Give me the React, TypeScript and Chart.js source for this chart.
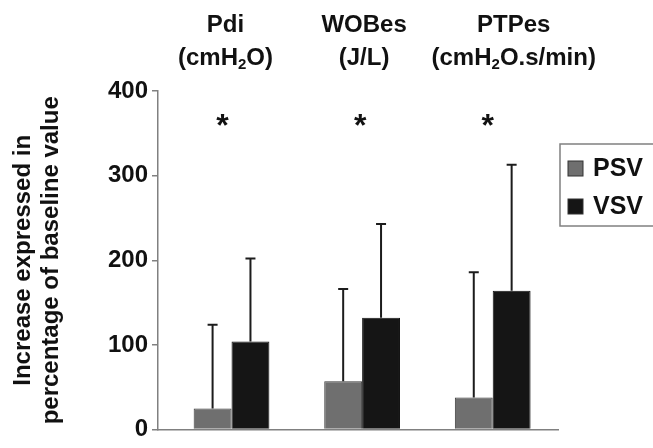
import React, { useEffect, useRef } from 'react';
import { Chart, registerables } from 'chart.js';

Chart.register(...registerables);

// ---- data ----
const categories = ['Pdi', 'WOBes', 'PTPes'];
const units = ['(cmH₂O)', '(J/L)', '(cmH₂O.s/min)'];
const seriesNames = ['PSV', 'VSV'];
const psvValues = [25, 57, 38];
const psvSD = [99, 109, 148];
const vsvValues = [104, 132, 164];
const vsvSD = [98, 111, 149];
const significance = ['*', '*', '*'];
const significanceLevel = 364;
const yTitle = ['Increase expressed in', 'percentage of baseline value'];

const FONT = "'Liberation Sans', Arial, Helvetica, sans-serif";
const TEXT = '#111111';
const AXIS = '#808080';
const COLORS = ['#6f6f6f', '#151515'];

function drawWithSubscript(ctx: CanvasRenderingContext2D, text: string, cx: number, cy: number, size: number) {
  const parts: { t: string; sub: boolean }[] = [];
  for (const ch of text) {
    const sub = ch === '₂';
    const c = sub ? '2' : ch;
    if (parts.length && parts[parts.length - 1].sub === sub) parts[parts.length - 1].t += c;
    else parts.push({ t: c, sub });
  }
  const subSize = Math.round(size * 0.62);
  let total = 0;
  parts.forEach((p) => {
    ctx.font = `bold ${p.sub ? subSize : size}px ${FONT}`;
    total += ctx.measureText(p.t).width;
  });
  let x = cx - total / 2;
  ctx.textAlign = 'left';
  ctx.textBaseline = 'middle';
  parts.forEach((p) => {
    ctx.font = `bold ${p.sub ? subSize : size}px ${FONT}`;
    ctx.fillText(p.t, x, p.sub ? cy + size * 0.28 : cy);
    x += ctx.measureText(p.t).width;
  });
}

const headerDx = [-6, 2, 21];
const starDx = [-9, -2, -5];

const errorBarPlugin = {
  id: 'errorBars',
  afterDatasetsDraw(chart: any) {
    const ctx = chart.ctx;
    const ys = chart.scales.y;
    chart.data.datasets.forEach((ds: any, di: number) => {
      const meta = chart.getDatasetMeta(di);
      meta.data.forEach((bar: any, i: number) => {
        const v = ds.data[i].y;
        const sd = ds.errors[i];
        const yTop = ys.getPixelForValue(v + sd);
        const yBase = ys.getPixelForValue(v);
        ctx.save();
        ctx.strokeStyle = '#1c1c1c';
        ctx.lineWidth = 2;
        ctx.beginPath();
        ctx.moveTo(bar.x, yBase);
        ctx.lineTo(bar.x, yTop);
        ctx.moveTo(bar.x - 5, yTop);
        ctx.lineTo(bar.x + 5, yTop);
        ctx.stroke();
        ctx.restore();
      });
    });
  },
};

const annotationsPlugin = {
  id: 'annotations',
  afterDraw(chart: any) {
    const ctx = chart.ctx;
    const xs = chart.scales.x;
    const ys = chart.scales.y;
    const area = chart.chartArea;
    ctx.save();
    ctx.fillStyle = TEXT;
    // column headers
    categories.forEach((c, i) => {
      const cx = xs.getPixelForValue(i) + headerDx[i];
      drawWithSubscript(ctx, c, cx, area.top - 66, 24);
      drawWithSubscript(ctx, units[i], cx, area.top - 33, 24);
    });
    // significance stars
    significance.forEach((s, i) => {
      ctx.font = `bold 32px ${FONT}`;
      ctx.textAlign = 'center';
      ctx.textBaseline = 'middle';
      ctx.fillStyle = TEXT;
      ctx.fillText(s, xs.getPixelForValue(i) + starDx[i], ys.getPixelForValue(significanceLevel) + 6);
    });
    // legend
    const lx = area.right + 2;
    const ly = 144;
    ctx.strokeStyle = AXIS;
    ctx.lineWidth = 1.5;
    ctx.strokeRect(lx, ly, 110, 82);
    chart.data.datasets.forEach((ds: any, di: number) => {
      const cy = ly + 24 + di * 38;
      ctx.fillStyle = ds.backgroundColor;
      ctx.fillRect(lx + 8, cy - 7, 15, 15);
      ctx.strokeStyle = '#333';
      ctx.lineWidth = 1;
      ctx.strokeRect(lx + 8, cy - 7, 15, 15);
      ctx.fillStyle = TEXT;
      ctx.font = `bold 25px ${FONT}`;
      ctx.textAlign = 'left';
      ctx.textBaseline = 'middle';
      ctx.fillText(ds.label, lx + 33, cy + 1);
    });
    ctx.restore();
  },
};

export default function App() {
  const ref = useRef<HTMLCanvasElement | null>(null);

  useEffect(() => {
    if (!ref.current) return;
    Chart.defaults.font.family = FONT;
    const chart = new Chart(ref.current, {
      type: 'bar',
      data: {
        datasets: [
          {
            label: seriesNames[0],
            data: psvValues.map((v, i) => ({ x: i, y: v })),
            errors: psvSD,
            backgroundColor: COLORS[0],
            borderColor: '#3a3a3a',
            borderWidth: 1,
            categoryPercentage: 0.58,
            barPercentage: 1,
          } as any,
          {
            label: seriesNames[1],
            data: vsvValues.map((v, i) => ({ x: i, y: v })),
            errors: vsvSD,
            backgroundColor: COLORS[1],
            borderColor: '#111',
            borderWidth: 1,
            categoryPercentage: 0.58,
            barPercentage: 1,
          } as any,
        ],
      },
      options: {
        animation: false,
        responsive: false,
        devicePixelRatio: 1,
        layout: { padding: { left: 10, right: 95, top: 91, bottom: 11 } },
        plugins: {
          legend: { display: false },
          tooltip: { enabled: false },
        },
        scales: {
          x: {
            type: 'linear',
            offset: false,
            min: -0.563,
            max: 2.5,
            ticks: { display: false },
            grid: { display: false },
            border: { display: true, color: AXIS, width: 1.5 },
            afterBuildTicks(s: any) {
              s.ticks = categories.map((_, i) => ({ value: i }));
            },
            afterFit(s: any) {
              s.height = 0;
            },
          },
          y: {
            min: 0,
            max: 400,
            ticks: {
              stepSize: 100,
              color: TEXT,
              padding: 4,
              font: { size: 24, weight: 'bold' },
            },
            grid: {
              display: true,
              drawOnChartArea: false,
              drawTicks: true,
              tickLength: 6,
              color: AXIS,
              lineWidth: 1.5,
            },
            border: { display: true, color: AXIS, width: 1.5 },
            title: {
              display: true,
              text: yTitle,
              color: TEXT,
              padding: 0,
              font: { size: 24, weight: 'bold', lineHeight: 1.15 },
            },
            afterFit(s: any) {
              s.width = 148;
            },
          },
        },
      } as any,
      plugins: [errorBarPlugin, annotationsPlugin],
    });
    return () => chart.destroy();
  }, []);

  return (
    <div style={{ position: 'absolute', left: 0, top: 0, width: 653, height: 448, background: '#fff' }}>
      <canvas ref={ref} width={653} height={448} />
    </div>
  );
}
